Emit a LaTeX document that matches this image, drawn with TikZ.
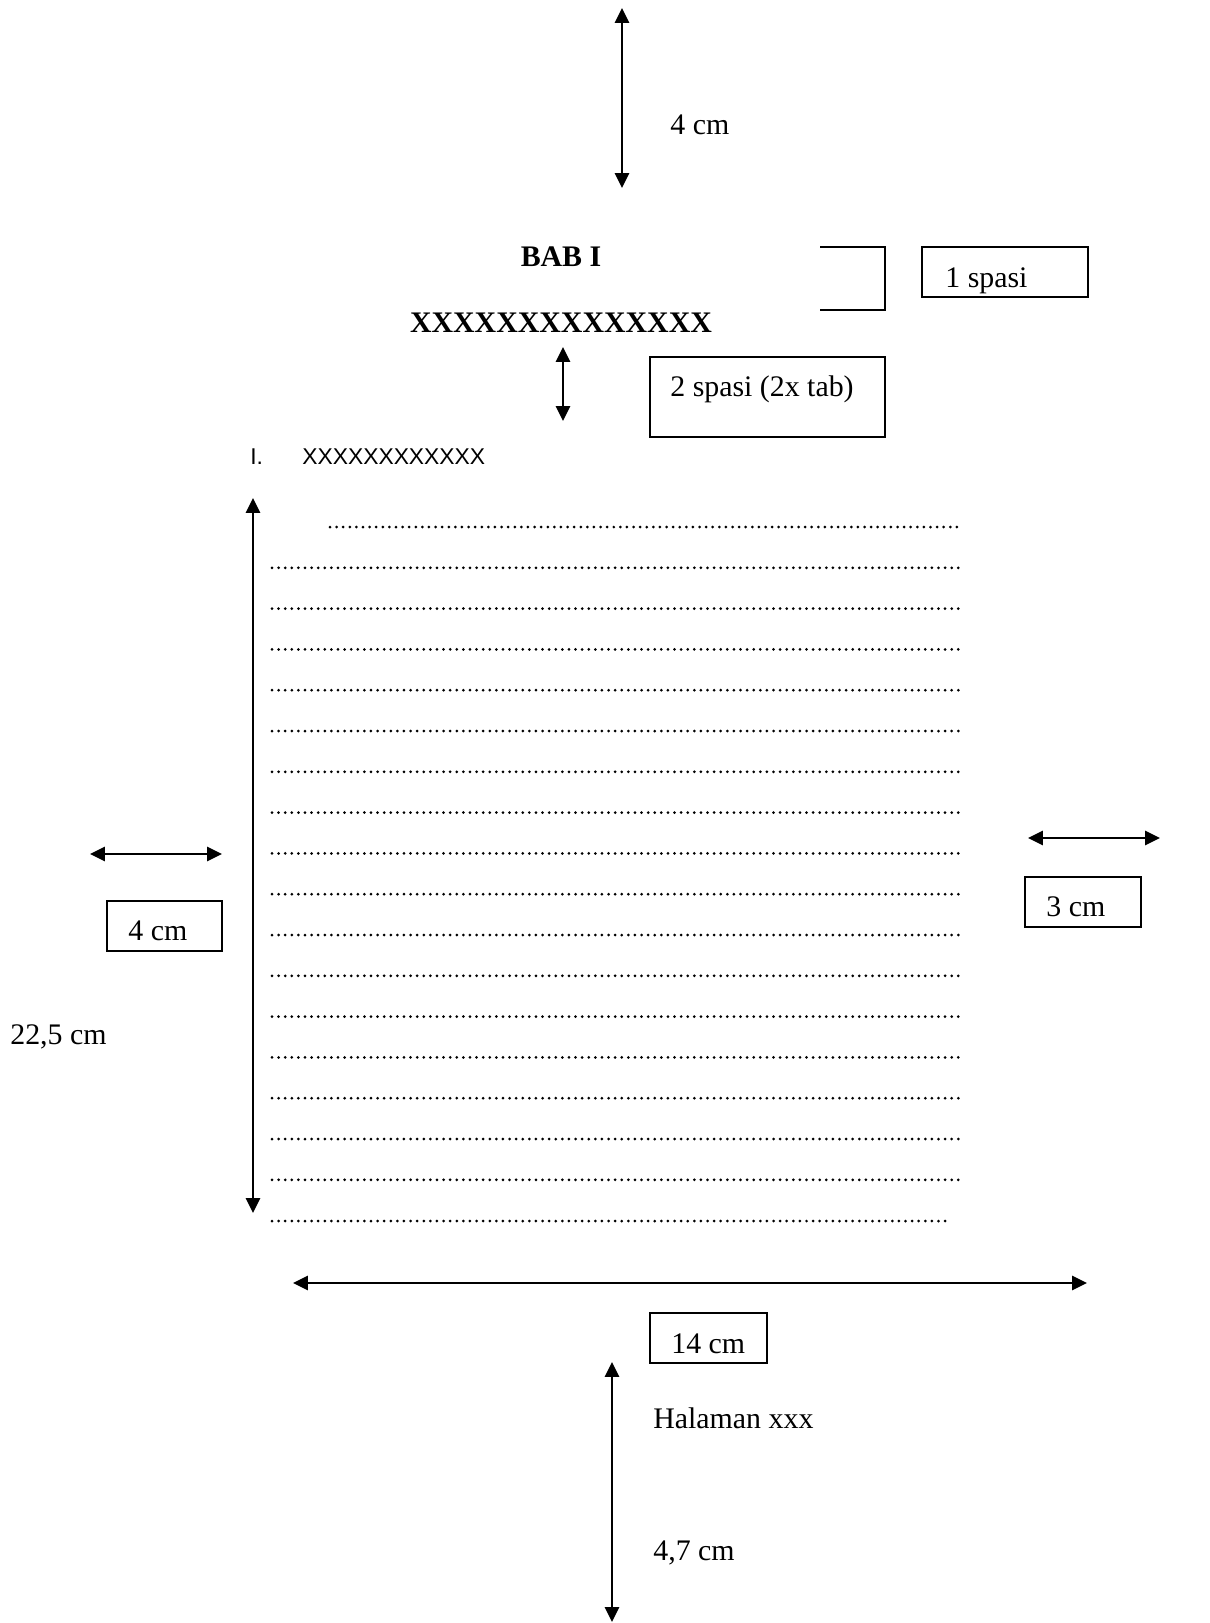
\documentclass[tikz,border=0pt]{standalone}
\usepackage{fontspec}
\setmainfont{Liberation Serif}
\newfontfamily\arialfont{Liberation Sans}
\usepackage{tikz}
\usetikzlibrary{arrows.meta,calc}
\newcommand{\bodyfont}{\fontsize{17pt}{20pt}\selectfont}

\begin{document}
\begin{tikzpicture}[
    x=0.02cm, y=-0.02cm,
    dimline/.style={draw, line width=1.4pt, {Triangle[length=8.5pt,width=8pt]}-{Triangle[length=8.5pt,width=8pt]}},
    boxline/.style={draw, line width=0.8pt},
    lbl/.style={anchor=base west, inner sep=0, font=\bodyfont},
    dotrow/.style={draw, line width=0.06cm, line cap=round, dash pattern=on 0pt off 0.132cm}]
\useasboundingbox (0,0) rectangle (1210,1623);

% top margin
\coordinate (topA) at (622,8);
\coordinate (topB) at (622,188);
\path[dimline] (topA) -- (topB);
\node[lbl] (topcm) at (670,134) {4 cm};

% chapter heading
\node[lbl, anchor=base, font=\bodyfont\bfseries] (bab) at (561,266) {BAB I};
\node[lbl, anchor=base, font=\bodyfont\bfseries] (judul) at (561,332) {XXXXXXXXXXXXXX};
\path[boxline] (820,247) -- (885,247) -- (885,310) -- (820,310);
\path[boxline] (922,247) rectangle (1088,297);
\node[lbl] (satu) at (945,287) {1 spasi};

\coordinate (gapA) at (563,347);
\coordinate (gapB) at (563,421);
\path[dimline] (gapA) -- (gapB);
\path[boxline] (650,357) rectangle (885,437);
\node[lbl] (dua) at (670,396) {2 spasi (2x tab)};

% sub heading
\node[lbl, font=\arialfont\fontsize{13pt}{15pt}\selectfont] (nomor) at (250,464) {I.};
\node[lbl, font=\arialfont\fontsize{13pt}{15pt}\selectfont] (subjudul) at (302,464) {XXXXXXXXXXXX};

% text body
\path[dotrow] (330,527) -- (960,527);
\foreach \k in {1,...,16}
    \path[dotrow] (272,527+\k*40.8) -- (963,527+\k*40.8);
\path[dotrow] (272,1221) -- (948,1221);

\coordinate (tinggiA) at (253,498);
\coordinate (tinggiB) at (253,1213);
\path[dimline] (tinggiA) -- (tinggiB);
\node[lbl] (tinggi) at (10,1044) {22,5 cm};

% left margin
\coordinate (kiriA) at (90,854);
\coordinate (kiriB) at (222,854);
\path[dimline] (kiriA) -- (kiriB);
\path[boxline] (107,901) rectangle (222,951);
\node[lbl] (kiri) at (128,940) {4 cm};

% right margin
\coordinate (kananA) at (1028,838);
\coordinate (kananB) at (1160,838);
\path[dimline] (kananA) -- (kananB);
\path[boxline] (1025,877) rectangle (1141,927);
\node[lbl] (kanan) at (1046,916) {3 cm};

% text width
\coordinate (lebarA) at (293,1283);
\coordinate (lebarB) at (1087,1283);
\path[dimline] (lebarA) -- (lebarB);
\path[boxline] (650,1313) rectangle (767,1363);
\node[lbl] (lebar) at (671,1353) {14 cm};

% bottom margin
\coordinate (bawahA) at (612,1362);
\coordinate (bawahB) at (612,1622);
\path[dimline] (bawahA) -- (bawahB);
\node[lbl] (halaman) at (653,1428) {Halaman xxx};
\node[lbl] (bawah) at (653,1560) {4,7 cm};

\end{tikzpicture}
\end{document}
